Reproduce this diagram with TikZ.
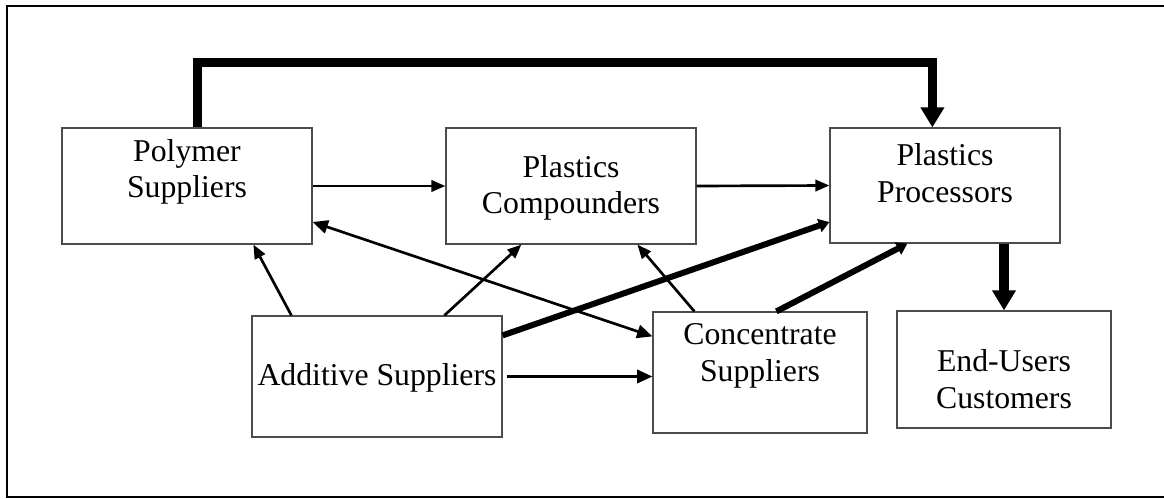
\documentclass[tikz,border=0pt]{standalone}
\usepackage{fontspec}
\setmainfont{Liberation Serif}
\usetikzlibrary{arrows.meta}
\begin{document}
\begin{tikzpicture}[x=0.75pt,y=-0.75pt,
  box/.style={draw=black!70,line width=0.9pt,rectangle,inner sep=0pt},
  txt/.style={align=center,inner sep=0pt,font=\fontsize{23.8pt}{27.5pt}\selectfont},
  thin/.style={line width=2pt,-{Triangle[length=10.5pt,width=8.5pt]}},
  thinb/.style={line width=2pt,-{Triangle[length=11.5pt,width=10pt]}},
  dbl/.style={line width=2pt,{Triangle[length=11.5pt,width=10pt]}-{Triangle[length=11.5pt,width=10pt]}},
  thick/.style={line width=4.5pt,-{Triangle[length=8pt,width=10pt]}},
  vthick/.style={line width=7pt,-{Triangle[length=15pt,width=17pt]}}]
\useasboundingbox (0,0) rectangle (1164,499);
\draw[line width=2pt] (1175,6) -- (7,6) -- (7,497) -- (1175,497);
% boxes
\node[box,minimum width=187.5pt,minimum height=87pt] (poly) at (187,186) {};
\node[box,minimum width=187.5pt,minimum height=87pt] (comp) at (571,186) {};
\node[box,minimum width=172.5pt,minimum height=86.25pt] (proc) at (945,185.5) {};
\node[box,minimum width=187.5pt,minimum height=90.75pt] (add) at (377,376.5) {};
\node[box,minimum width=160.5pt,minimum height=90.75pt] (conc) at (760,372.5) {};
\node[box,minimum width=160.5pt,minimum height=87.75pt] (end) at (1004,369.5) {};
% texts
\node[txt] (polyt) at (187,172) {Polymer\\Suppliers};
\node[txt] (compt) at (571,188) {Plastics\\Compounders};
\node[txt] (proct) at (945,173) {Plastics\\Processors};
\node[txt] (addt) at (377,378) {Additive Suppliers};
\node[txt] (conct) at (760,356) {Concentrate\\Suppliers};
\node[txt] (endt) at (1004,379) {End-Users\\Customers};
% connectors
\draw[vthick,line join=miter] ([xshift=102pt]poly.north west) -- ++(0,-65) -| ([xshift=77.25pt]proc.north west);
\draw[vthick] (end.north |- proc.south) -- (end.north);
\draw[thin] (poly.east) -- (comp.west);
\draw[thin] (comp.east) -- (proc.west);
\draw[thin] ([xshift=30pt]add.north west) -- ([xshift=144pt]poly.south west);
\draw[thin] ([xshift=144.75pt]add.north west) -- ([xshift=57pt]comp.south west);
\draw[thin] ([xshift=31.5pt]conc.north west) -- ([xshift=144pt]comp.south west);
\draw[dbl] ([yshift=-27pt]poly.east) -- ([yshift=-18.75pt]conc.north west);
\draw[thick] ([yshift=-15pt]add.north east) -- ([yshift=-27.4pt]proc.west);
\draw[thick] ([xshift=93pt]conc.north west) -- ([xshift=58.5pt]proc.south west);
\draw[thinb,shorten <=3pt] (add.east) -- (add.east -| conc.west);
\end{tikzpicture}
\end{document}
